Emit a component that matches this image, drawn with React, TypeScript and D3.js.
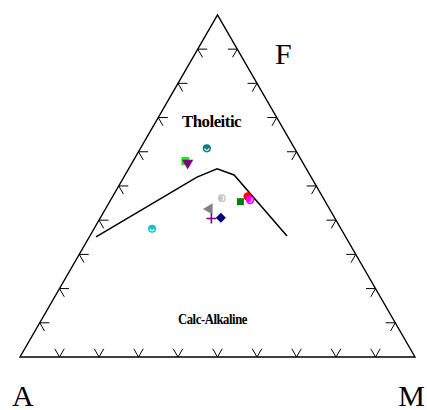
import React from "react";
import * as d3 from "d3";

// AFM ternary diagram (Irvine & Baragar tholeiitic / calc-alkaline boundary)
const vertexLabels = ["A", "F", "M"];
const fieldLabels = ["Tholeitic", "Calc-Alkaline"];
const tickFractions = [0.1, 0.2, 0.3, 0.4, 0.5, 0.6, 0.7, 0.8, 0.9];

// Boundary curve, in percent A / F / M
const boundaryA = [63.2, 28.9, 22.6, 19.2, 14.7];
const boundaryF = [35.1, 52.6, 55.0, 53.2, 35.4];
const boundaryM = [1.7, 18.5, 22.4, 27.6, 49.9];

// Samples, in percent A / F / M
const sampleA = [22.2, 29.5, 29.2, 25.7, 21.5, 18.9, 18.8, 30.4, 31.3, 28.8, 47.8];
const sampleF = [61.0, 57.3, 56.7, 46.4, 45.4, 46.9, 45.9, 43.3, 40.5, 40.7, 37.5];
const sampleM = [16.8, 13.2, 14.1, 27.9, 33.1, 34.2, 35.3, 26.3, 28.2, 30.5, 14.7];

type Marker = {
  shape: "circle" | "square" | "triangle" | "diamond" | "plus";
  color: string;
  size: number;
  rotate?: number;
  shine?: number; // angle (deg) of the small white arc drawn inside circles
};

const markers: Marker[] = [
  { shape: "circle", color: "#008080", size: 52, shine: 90 },
  { shape: "square", color: "#00ff00", size: 62 },
  { shape: "triangle", color: "#800080", size: 54, rotate: 180 },
  { shape: "circle", color: "#c8c8c8", size: 50, shine: 0 },
  { shape: "square", color: "#008000", size: 49 },
  { shape: "circle", color: "#ff0000", size: 56 },
  { shape: "circle", color: "#ff00ff", size: 56, shine: 30 },
  { shape: "triangle", color: "#808080", size: 54, rotate: -90 },
  { shape: "plus", color: "#800080", size: 5 },
  { shape: "diamond", color: "#000080", size: 50 },
  { shape: "circle", color: "#00c8c8", size: 52, shine: 90 },
];

const W = 427;
const H = 410;
const left = 20;
const right = 415;
const base = 357;
const side = right - left;
const top = base - (side * Math.sqrt(3)) / 2;

const xScale = d3.scaleLinear().domain([0, 1]).range([left, right]);
const yScale = d3.scaleLinear().domain([0, 1]).range([base, top]);

function project(a: number, f: number, m: number): [number, number] {
  const s = a + f + m;
  const fn = f / s;
  const mn = m / s;
  return [xScale(mn + fn / 2), yScale(fn)];
}

const cornerA = project(1, 0, 0);
const cornerF = project(0, 1, 0);
const cornerM = project(0, 0, 1);

const tickLen = 9.5;
const c60 = 0.5;
const s60 = Math.sqrt(3) / 2;

// each side: start, end, and the two inward tick directions (parallel to the other sides)
const sides: { from: [number, number]; to: [number, number]; dirs: [number, number][] }[] = [
  { from: cornerA, to: cornerM, dirs: [[c60, -s60], [-c60, -s60]] },
  { from: cornerA, to: cornerF, dirs: [[1, 0], [c60, s60]] },
  { from: cornerF, to: cornerM, dirs: [[-1, 0], [-c60, s60]] },
];

export default function App() {
  const line = d3.line<[number, number]>();
  const boundary = boundaryA.map((a, i) => project(a, boundaryF[i], boundaryM[i]));
  const frame = line([cornerA, cornerM, cornerF, cornerA]) + "Z";

  const ticks: string[] = [];
  sides.forEach((s) => {
    tickFractions.forEach((t) => {
      const px = s.from[0] + (s.to[0] - s.from[0]) * t;
      const py = s.from[1] + (s.to[1] - s.from[1]) * t;
      s.dirs.forEach(([dx, dy]) => {
        ticks.push(`M${px},${py}L${px + dx * tickLen},${py + dy * tickLen}`);
      });
    });
  });

  const symbolType = {
    circle: d3.symbolCircle,
    square: d3.symbolSquare,
    triangle: d3.symbolTriangle,
    diamond: d3.symbolSquare,
  } as const;

  const font = "'Liberation Serif', 'Times New Roman', serif";

  return (
    <div style={{ position: "fixed", left: 0, top: 0 }}>
      <svg width={W} height={H} style={{ display: "block", background: "#fff" }}>
        <path d={frame} fill="none" stroke="#000" strokeWidth={1.4} />
        <path d={ticks.join("")} fill="none" stroke="#000" strokeWidth={1} />
        <path d={line(boundary) || ""} fill="none" stroke="#000" strokeWidth={1.5} />

        <text x={211.5} y={127} textAnchor="middle" fontFamily={font} fontWeight="bold"
          fontSize={16} textLength={59} lengthAdjust="spacingAndGlyphs" letterSpacing={-0.5}>
          {fieldLabels[0]}
        </text>
        <text x={212.5} y={324} textAnchor="middle" fontFamily={font} fontWeight="bold"
          fontSize={15} textLength={69} lengthAdjust="spacingAndGlyphs" letterSpacing={-0.5}>
          {fieldLabels[1]}
        </text>

        <text x={12} y={406} fontFamily={font} fontSize={30}>{vertexLabels[0]}</text>
        <text x={275} y={64} fontFamily={font} fontSize={30}>{vertexLabels[1]}</text>
        <text x={425} y={406} textAnchor="end" fontFamily={font} fontSize={30}>{vertexLabels[2]}</text>

        {markers.map((mk, i) => {
          const [x, y] = project(sampleA[i], sampleF[i], sampleM[i]);
          if (mk.shape === "plus") {
            const r = mk.size;
            return (
              <path key={i} d={`M${x - r},${y}L${x + r},${y}M${x},${y - r}L${x},${y + r}`}
                stroke={mk.color} strokeWidth={1.6} fill="none" />
            );
          }
          const rot = mk.shape === "diamond" ? 45 : mk.rotate || 0;
          const d = d3.symbol(symbolType[mk.shape], mk.size)() || "";
          let shine: React.ReactNode = null;
          if (mk.shine !== undefined) {
            const arc = d3.arc()({
              innerRadius: 1.4,
              outerRadius: 2.6,
              startAngle: ((mk.shine - 90) * Math.PI) / 180 + Math.PI / 2,
              endAngle: ((mk.shine + 90) * Math.PI) / 180 + Math.PI / 2,
            } as any);
            shine = <path d={arc || ""} fill="#fff" opacity={0.85} />;
          }
          return (
            <g key={i} transform={`translate(${x},${y}) rotate(${rot})`}>
              <path d={d} fill={mk.color} />
              {shine}
            </g>
          );
        })}
      </svg>
    </div>
  );
}
